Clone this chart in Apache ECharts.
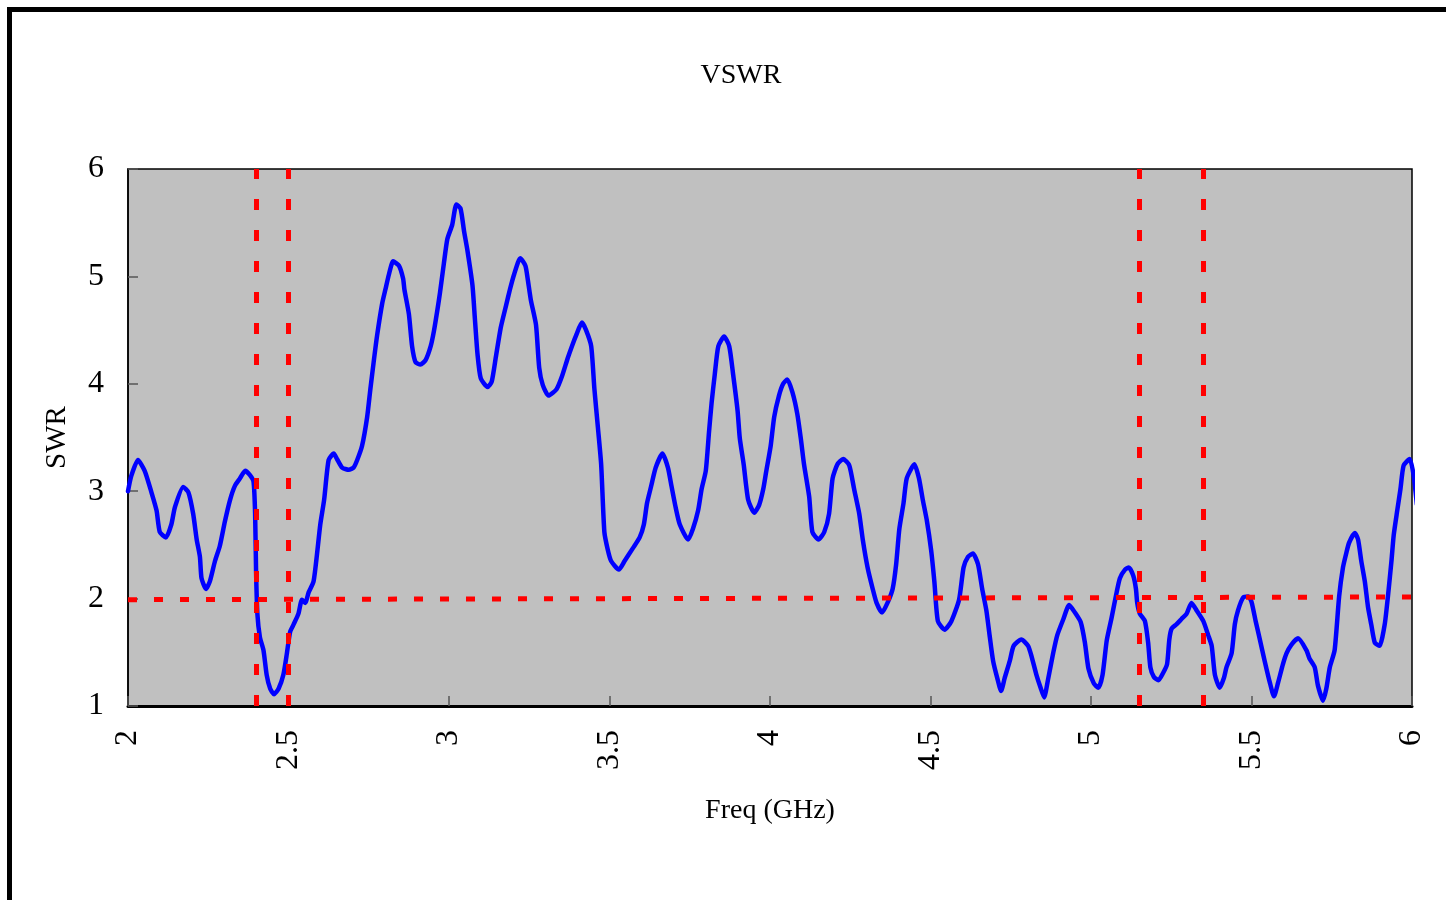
<!DOCTYPE html>
<html>
<head>
<meta charset="utf-8">
<script src="https://cdn.jsdelivr.net/npm/echarts@6/dist/echarts.min.js"></script>
<style>html,body{margin:0;padding:0;background:#fff;}#c{width:1446px;height:900px;}</style>
</head>
<body>
<div id="c"></div>
<script>
const freq = [2.000,2.010,2.031,2.052,2.073,2.089,2.099,2.118,2.135,2.146,2.172,2.188,2.203,2.214,2.224,2.229,2.243,2.255,2.271,2.286,2.302,2.318,2.333,2.349,2.365,2.380,2.391,2.396,2.399,2.403,2.411,2.422,2.432,2.443,2.455,2.469,2.484,2.495,2.505,2.516,2.531,2.542,2.552,2.563,2.578,2.589,2.599,2.611,2.625,2.641,2.651,2.667,2.688,2.703,2.714,2.729,2.745,2.755,2.766,2.776,2.792,2.802,2.813,2.826,2.844,2.857,2.861,2.875,2.885,2.896,2.911,2.927,2.943,2.953,2.964,2.972,2.984,2.995,3.010,3.023,3.036,3.047,3.057,3.073,3.081,3.089,3.099,3.120,3.133,3.146,3.161,3.177,3.190,3.203,3.222,3.238,3.245,3.255,3.271,3.281,3.292,3.310,3.335,3.352,3.370,3.383,3.396,3.414,3.427,3.443,3.453,3.464,3.474,3.484,3.495,3.505,3.529,3.547,3.573,3.594,3.607,3.617,3.630,3.644,3.665,3.682,3.693,3.706,3.719,3.745,3.760,3.776,3.787,3.800,3.810,3.818,3.828,3.839,3.857,3.873,3.885,3.899,3.906,3.918,3.932,3.951,3.966,3.979,3.988,4.002,4.013,4.028,4.041,4.054,4.070,4.085,4.096,4.106,4.122,4.132,4.151,4.169,4.184,4.195,4.210,4.228,4.247,4.262,4.278,4.289,4.304,4.320,4.332,4.349,4.366,4.382,4.393,4.403,4.416,4.426,4.450,4.464,4.476,4.489,4.502,4.512,4.523,4.544,4.565,4.589,4.603,4.617,4.632,4.648,4.661,4.674,4.684,4.695,4.708,4.720,4.731,4.747,4.759,4.783,4.804,4.815,4.830,4.843,4.854,4.867,4.882,4.895,4.914,4.932,4.950,4.968,4.981,4.992,5.009,5.023,5.036,5.049,5.064,5.080,5.090,5.106,5.118,5.132,5.140,5.144,5.152,5.168,5.178,5.185,5.196,5.210,5.225,5.237,5.244,5.251,5.266,5.282,5.298,5.313,5.329,5.350,5.365,5.376,5.386,5.401,5.414,5.422,5.438,5.448,5.458,5.474,5.490,5.500,5.513,5.526,5.541,5.557,5.570,5.583,5.598,5.609,5.624,5.645,5.671,5.681,5.697,5.707,5.723,5.733,5.744,5.759,5.773,5.785,5.795,5.804,5.822,5.832,5.842,5.853,5.863,5.873,5.884,5.899,5.915,5.925,5.936,5.943,5.954,5.964,5.974,5.993,6.005,6.015];
const swr = [3.00,3.14,3.29,3.19,2.99,2.82,2.62,2.57,2.69,2.85,3.04,2.99,2.79,2.55,2.39,2.19,2.09,2.16,2.35,2.49,2.72,2.92,3.05,3.12,3.19,3.15,3.09,2.79,2.25,1.86,1.64,1.52,1.29,1.16,1.11,1.16,1.29,1.49,1.69,1.76,1.86,1.99,1.96,2.06,2.16,2.42,2.69,2.92,3.29,3.35,3.30,3.22,3.20,3.22,3.29,3.42,3.69,3.95,4.22,4.45,4.75,4.88,5.02,5.14,5.10,4.98,4.88,4.65,4.35,4.20,4.18,4.22,4.35,4.49,4.69,4.85,5.12,5.35,5.48,5.67,5.63,5.42,5.25,4.92,4.59,4.27,4.05,3.97,4.02,4.25,4.52,4.72,4.88,5.02,5.17,5.10,4.98,4.78,4.55,4.15,3.99,3.89,3.95,4.07,4.24,4.35,4.45,4.57,4.50,4.35,3.95,3.59,3.25,2.62,2.45,2.35,2.27,2.35,2.47,2.57,2.69,2.89,3.05,3.22,3.35,3.22,3.05,2.85,2.69,2.55,2.65,2.82,3.02,3.19,3.55,3.82,4.09,4.35,4.44,4.35,4.09,3.75,3.49,3.25,2.92,2.80,2.87,3.02,3.18,3.42,3.69,3.89,4.00,4.04,3.92,3.72,3.49,3.25,2.95,2.62,2.55,2.62,2.79,3.12,3.25,3.30,3.24,3.02,2.79,2.55,2.29,2.09,1.96,1.87,1.96,2.09,2.32,2.65,2.89,3.12,3.25,3.12,2.92,2.72,2.45,2.16,1.79,1.71,1.79,1.99,2.29,2.39,2.42,2.32,2.09,1.89,1.66,1.42,1.26,1.14,1.26,1.42,1.56,1.62,1.56,1.46,1.29,1.17,1.08,1.26,1.49,1.66,1.81,1.94,1.87,1.78,1.59,1.35,1.21,1.17,1.29,1.61,1.82,2.06,2.19,2.27,2.29,2.21,2.09,1.96,1.86,1.79,1.59,1.36,1.27,1.24,1.31,1.39,1.62,1.72,1.76,1.81,1.86,1.96,1.89,1.79,1.66,1.56,1.29,1.17,1.26,1.36,1.49,1.76,1.89,2.01,2.02,1.97,1.79,1.62,1.42,1.22,1.09,1.22,1.39,1.49,1.57,1.63,1.52,1.44,1.36,1.19,1.05,1.16,1.36,1.52,2.02,2.29,2.42,2.52,2.61,2.55,2.35,2.16,1.92,1.76,1.59,1.56,1.76,2.02,2.35,2.59,2.82,3.02,3.24,3.30,3.15,2.88];
const bandEdges = [2.4, 2.5, 5.15, 5.35];
const limitLine = [[2, 1.99], [6, 2.015]];
const xTicks = [2, 2.5, 3, 3.5, 4, 4.5, 5, 5.5, 6];
const yTicks = [1, 2, 3, 4, 5, 6];

const FONT = '"Liberation Serif", "DejaVu Serif", serif';
const chart = echarts.init(document.getElementById('c'), null, {renderer: 'canvas'});
const vLines = bandEdges.map(v => ({xAxis: v, lineStyle: {type: [11, 20]}}));
const hLine = [{coord: limitLine[0]}, {coord: limitLine[1]}];

chart.setOption({
  animation: false,
  backgroundColor: '#ffffff',
  graphic: [{
    type: 'rect', left: 7, top: 7, z: 100, silent: true,
    shape: {x: 0, y: 0, width: 1500, height: 1000},
    style: {fill: 'none', stroke: '#000', lineWidth: 5}
  }],
  title: {
    text: 'VSWR', left: 736, top: 57, textAlign: 'center',
    textStyle: {fontFamily: FONT, fontSize: 28, fontWeight: 'normal', color: '#000'}
  },
  grid: {
    left: 128, top: 169, right: 34, bottom: 194, show: true,
    backgroundColor: '#C0C0C0', borderColor: '#000', borderWidth: 1.5
  },
  xAxis: {
    type: 'value', min: xTicks[0], max: xTicks[xTicks.length - 1], interval: 0.5,
    name: 'Freq (GHz)', nameLocation: 'middle', nameGap: 91,
    nameTextStyle: {fontFamily: FONT, fontSize: 28, color: '#000'},
    axisLine: {show: true, lineStyle: {color: '#000', width: 3}},
    axisTick: {show: true, inside: true, length: 10, lineStyle: {color: '#555', width: 1.5}},
    axisLabel: {rotate: 90, margin: 24, fontFamily: FONT, fontSize: 32, color: '#000',
      formatter: v => String(v)},
    splitLine: {show: false}
  },
  yAxis: {
    type: 'value', min: yTicks[0], max: yTicks[yTicks.length - 1], interval: 1,
    name: 'SWR', nameLocation: 'middle', nameGap: 56, nameRotate: 90,
    nameTextStyle: {fontFamily: FONT, fontSize: 29, color: '#000'},
    axisLine: {show: true, lineStyle: {color: '#000', width: 1.5}},
    axisTick: {show: true, inside: true, length: 10, lineStyle: {color: '#555', width: 1.5}},
    axisLabel: {margin: 24, fontFamily: FONT, fontSize: 32, color: '#000', padding: [6, 0, 0, 0]},
    splitLine: {show: false}
  },
  series: [{
    type: 'line',
    data: freq.map((f, i) => [f, swr[i]]),
    showSymbol: false,
    smooth: 0.2,
    clip: false,
    lineStyle: {color: '#0000FF', width: 4.5, cap: 'round', join: 'round'},
    markLine: {
      silent: true, symbol: 'none', animation: false,
      label: {show: false},
      lineStyle: {color: '#FF0000', width: 5, type: [9, 17]},
      data: vLines.concat([hLine])
    },
    z: 3
  }]
});
</script>
</body>
</html>
